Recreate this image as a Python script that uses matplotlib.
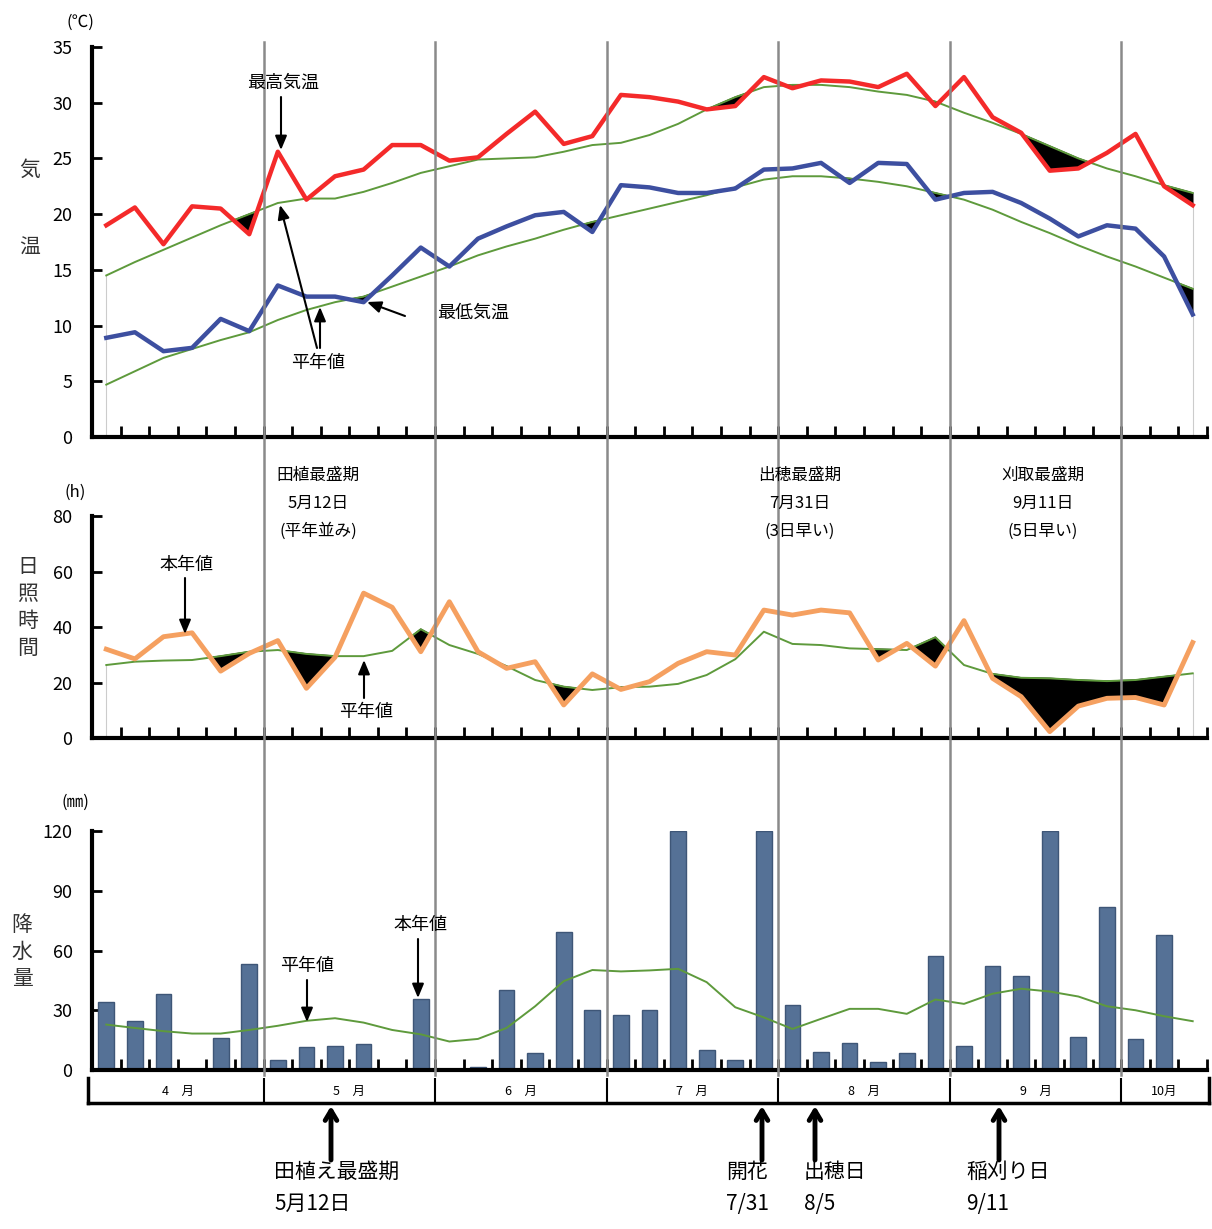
import matplotlib
matplotlib.use("Agg")
import matplotlib.pyplot as plt
from matplotlib.lines import Line2D
from matplotlib.transforms import blended_transform_factory
import numpy as np

plt.rcParams["font.family"] = ["Noto Sans CJK JP", "DejaVu Sans"]

W, H = 1212, 1229

# half-decade (5 day) periods, April 1 to October 15
months = ["4　月", "5　月", "6　月", "7　月", "8　月", "9　月", "10月"]
month_len = [6, 6, 6, 6, 6, 6, 3]

tmax = [19.0, 20.6, 17.3, 20.7, 20.5, 18.2, 25.6, 21.3, 23.4, 24.0, 26.2, 26.2, 24.8,
        25.1, 27.2, 29.2, 26.3, 27.0, 30.7, 30.5, 30.1, 29.4, 29.7, 32.3, 31.3, 32.0,
        31.9, 31.4, 32.6, 29.7, 32.3, 28.7, 27.3, 23.9, 24.1, 25.5, 27.2, 22.5, 20.8]
tmax_norm = [14.5, 15.7, 16.8, 17.9, 19.0, 20.0, 21.0, 21.4, 21.4, 22.0, 22.8, 23.7, 24.3,
             24.9, 25.0, 25.1, 25.6, 26.2, 26.4, 27.1, 28.1, 29.4, 30.5, 31.4, 31.6, 31.6,
             31.4, 31.0, 30.7, 30.1, 29.1, 28.2, 27.2, 26.1, 25.0, 24.1, 23.4, 22.6, 21.9]
tmin = [8.9, 9.4, 7.7, 8.0, 10.6, 9.5, 13.6, 12.6, 12.6, 12.1, 14.5, 17.0, 15.3,
        17.8, 18.9, 19.9, 20.2, 18.4, 22.6, 22.4, 21.9, 21.9, 22.3, 24.0, 24.1, 24.6,
        22.8, 24.6, 24.5, 21.3, 21.9, 22.0, 21.0, 19.6, 18.0, 19.0, 18.7, 16.2, 11.0]
tmin_norm = [4.7, 5.9, 7.1, 7.9, 8.7, 9.4, 10.5, 11.4, 12.1, 12.6, 13.5, 14.4, 15.3,
             16.3, 17.1, 17.8, 18.6, 19.3, 19.9, 20.5, 21.1, 21.7, 22.4, 23.1, 23.4, 23.4,
             23.2, 22.9, 22.5, 21.9, 21.3, 20.4, 19.3, 18.3, 17.2, 16.2, 15.3, 14.3, 13.3]

sun = [32.0, 28.5, 36.5, 37.9, 24.1, 30.5, 35.1, 17.9, 29.1, 52.2, 47.1, 31.1, 49.1,
       31.1, 25.1, 27.5, 11.9, 23.1, 17.5, 20.3, 26.9, 31.1, 29.9, 46.1, 44.3, 46.1,
       45.1, 28.1, 34.1, 25.9, 42.3, 21.5, 14.9, 2.3, 11.5, 14.3, 14.6, 11.9, 34.4]
sun_norm = [26.3, 27.5, 27.9, 28.1, 29.5, 31.1, 31.7, 30.3, 29.5, 29.5, 31.4, 39.2, 33.5,
            30.3, 25.9, 20.9, 18.5, 17.3, 18.3, 18.5, 19.5, 22.7, 28.4, 38.3, 33.9, 33.5,
            32.3, 32.0, 31.7, 36.3, 26.3, 23.1, 21.7, 21.5, 20.9, 20.5, 20.9, 22.1, 23.3]

rain = [33.9, 24.8, 38.0, 0.0, 16.3, 53.0, 5.0, 11.4, 12.3, 13.3, 0.0, 35.4, 0.0,
        1.7, 40.3, 8.3, 69.3, 30.3, 27.7, 30.3, 120.0, 10.1, 5.1, 120.0, 32.7, 9.2,
        13.6, 4.2, 8.6, 57.4, 12.1, 52.0, 47.0, 120.0, 16.8, 81.9, 15.5, 68.0, 0.0]
rain_norm = [22.8, 21.1, 19.5, 18.3, 18.3, 20.1, 22.2, 24.7, 26.0, 23.8, 20.1, 17.9, 14.3,
             15.6, 21.1, 32.0, 44.6, 50.2, 49.5, 50.0, 50.8, 44.1, 31.5, 26.4, 20.6, 25.7,
             30.7, 30.7, 28.2, 35.4, 33.2, 38.3, 40.8, 39.4, 36.9, 32.0, 30.0, 27.0, 24.5]

x = np.arange(len(tmax))
n = len(x)
month_edges = np.cumsum(month_len)[:-1] - 0.5

fig = plt.figure(figsize=(W / 100, H / 100), dpi=100)


def fx(px):
    return px / W


def fy(py):
    return 1 - py / H


def panel(top, bottom, ymax, ystep):
    ax = fig.add_axes([fx(92), fy(bottom), fx(1207) - fx(92), (bottom - top) / H])
    ax.set_xlim(-0.5, n - 0.5)
    ax.set_ylim(0, ymax)
    ax.set_yticks(np.arange(0, ymax + 1, ystep))
    ax.set_xticks(np.arange(0.5, n, 1))
    ax.tick_params(axis="x", direction="in", length=8, width=2, labelbottom=False)
    ax.tick_params(axis="y", direction="in", length=7, width=2, labelsize=13, pad=14)
    for s in ["top", "right"]:
        ax.spines[s].set_visible(False)
    for s in ["left", "bottom"]:
        ax.spines[s].set_linewidth(3)
    ax.patch.set_alpha(0)
    return ax


green = "#5e9a3c"

# temperature
ax1 = panel(47, 437, 35, 5)
ax1.vlines([0, n - 1], 0, [tmax_norm[0], tmax_norm[-1]], color="#cccccc", lw=0.8)
for act, norm, col in [(tmax, tmax_norm, "#f42a2a"), (tmin, tmin_norm, "#3d4fa0")]:
    a = np.array(act)
    b = np.array(norm)
    ax1.fill_between(x, a, b, where=a < b, interpolate=True, color="black", zorder=2)
    ax1.plot(x, norm, color=green, lw=1.4, zorder=3)
    ax1.plot(x, act, color=col, lw=3.2, zorder=4)

# sunshine
ax2 = panel(516, 738, 80, 20)
ax2.vlines([0, n - 1], 0, [sun_norm[0], sun_norm[-1]], color="#cccccc", lw=0.8)
a = np.array(sun)
b = np.array(sun_norm)
ax2.fill_between(x, a, b, where=a < b, interpolate=True, color="black", zorder=2)
ax2.plot(x, sun_norm, color=green, lw=1.4, zorder=3)
ax2.plot(x, sun, color="#f5a060", lw=3.5, zorder=4)

# precipitation
ax3 = panel(831, 1070, 120, 30)
ax3.bar(x, rain, width=0.55, color="#557196", edgecolor="#3e5677", lw=1, zorder=2)
ax3.plot(x, rain_norm, color=green, lw=1.4, zorder=3)

# month band
ax4 = fig.add_axes([fx(88), fy(1103), fx(1209) - fx(88), (1103 - 1078) / H])
ax4.set_xlim(-0.5 - 4 / 28.6, n - 0.5 + 2 / 28.6)
ax4.set_ylim(0, 1)
ax4.set_xticks([])
ax4.set_yticks([])
ax4.spines["top"].set_visible(False)
for s in ["left", "right", "bottom"]:
    ax4.spines[s].set_linewidth(2.5)
ax4.vlines(month_edges, 0, 1, color="black", lw=1.5)
start = 0
for name, m in zip(months, month_len):
    ax4.text(start - 0.5 + m / 2, 0.45, name, ha="center", va="center", fontsize=9)
    start += m

# month boundary lines across all panels
blend = blended_transform_factory(ax1.transData, fig.transFigure)
for e in month_edges:
    fig.add_artist(Line2D([e, e], [fy(42), fy(1075)], transform=blend,
                          color="#8a8a8a", lw=1.8))


def txt(px, py, s, size=13, **kw):
    kw.setdefault("ha", "center")
    kw.setdefault("va", "center")
    fig.text(fx(px), fy(py), s, fontsize=size, **kw)


def arrow(x0, y0, x1, y1, lw=1.5, style="-|>,head_length=0.6,head_width=0.25"):
    fig.add_artist(matplotlib.patches.FancyArrowPatch(
        (fx(x0), fy(y0)), (fx(x1), fy(y1)), transform=fig.transFigure,
        arrowstyle=style, mutation_scale=14, color="black", lw=lw,
        shrinkA=0, shrinkB=0))


import matplotlib.patches

# units and axis titles
txt(80, 22, "(℃)", 12)
txt(75, 492, "(h)", 12)
txt(75, 802, "(㎜)", 12)
txt(30, 170, "気", 15, color="#333333")
txt(30, 248, "温", 15, color="#333333")
for i, ch in enumerate("日照時間"):
    txt(28, 567 + i * 27, ch, 15, color="#333333")
for i, ch in enumerate("降水量"):
    txt(22, 925 + i * 27, ch, 15, color="#333333")

# temperature annotations
txt(283, 83, "最高気温")
arrow(281, 97, 281, 150)
txt(318, 363, "平年値")
arrow(317, 348, 280, 205)
arrow(320, 348, 320, 307)
txt(473, 313, "最低気温")
arrow(405, 316, 367, 302)

# sunshine annotations
txt(186, 565, "本年値")
arrow(185, 578, 185, 634)
txt(366, 712, "平年値")
arrow(364, 698, 364, 660)
for cx, lines in [(318, ["田植最盛期", "5月12日", "(平年並み)"]),
                  (800, ["出穂最盛期", "7月31日", "(3日早い)"]),
                  (1043, ["刈取最盛期", "9月11日", "(5日早い)"])]:
    for j, s in enumerate(lines):
        txt(cx, 475 + j * 28, s, 12)

# precipitation annotations
txt(307, 966, "平年値")
arrow(307, 980, 307, 1022)
txt(420, 925, "本年値")
arrow(418, 939, 418, 998)

# crop stage arrows below the month band
big = "->,head_length=0.5,head_width=0.3"
for ax_, label, date in [(331, "田植え最盛期", "5月12日"), (762, "開花", "7/31"),
                         (815, "出穂日", "8/5"), (999, "稲刈り日", "9/11")]:
    arrow(ax_, 1160, ax_, 1106, lw=3.5, style=big)
for lx, label, date in [(274, "田植え最盛期", "5月12日"), (726, "開花", "7/31"),
                        (804, "出穂日", "8/5"), (966, "稲刈り日", "9/11")]:
    txt(lx, 1172, label, 15, ha="left")
    txt(lx, 1204, date, 15, ha="left")

fig.savefig("out.png", dpi=100)
